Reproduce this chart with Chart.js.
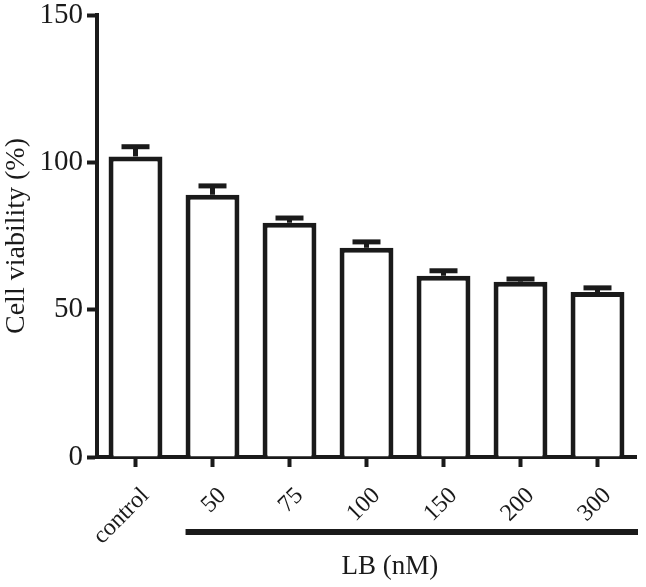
<!DOCTYPE html>
<html>
<head>
<meta charset="utf-8">
<script src="https://cdn.jsdelivr.net/npm/chart.js@4/dist/chart.umd.min.js"></script>
<style>
  html, body { margin: 0; padding: 0; background: #fff; }
  #wrap { width: 646px; height: 587px; }
</style>
</head>
<body>
<div id="wrap"><canvas id="viability-chart"></canvas></div>
<script>
// values
let groups = ['control', '50', '75', '100', '150', '200', '300'];
let viability = [102, 89, 79.5, 71, 61.5, 59.5, 56];
let errors = [3.3, 3, 1.6, 2, 1.7, 0.9, 1.4];
let yTicks = [0, 50, 100, 150];
let doseTitle = 'LB (nM)';

const ink = '#1a1a1a';
const serif = "'Liberation Serif', 'DejaVu Serif', serif";

// upper error bars with caps
const errorBars = {
    id: 'errorBars',
    afterDatasetsDraw(chart) {
        let ctx = chart.ctx;
        let y = chart.scales.y;
        let meta = chart.getDatasetMeta(0);
        ctx.save();
        ctx.strokeStyle = ink;
        ctx.lineWidth = 5;
        meta.data.forEach(function (bar, i) {
            let top = y.getPixelForValue(viability[i] + errors[i]);
            ctx.beginPath();
            ctx.moveTo(bar.x, bar.y);
            ctx.lineTo(bar.x, top);
            ctx.stroke();
            ctx.beginPath();
            ctx.moveTo(bar.x - 14, top);
            ctx.lineTo(bar.x + 14, top);
            ctx.stroke();
        });
        ctx.restore();
    }
};

// line under the LB doses + its label
const doseLine = {
    id: 'doseLine',
    afterDraw(chart) {
        let ctx = chart.ctx;
        let bar = chart.getDatasetMeta(0).data[1];
        let start = bar.x - bar.width / 2;
        ctx.save();
        ctx.fillStyle = ink;
        ctx.fillRect(start, 529, chart.width - start - 8, 6);
        ctx.font = '27px ' + serif;
        ctx.textBaseline = 'middle';
        ctx.textAlign = 'left';
        ctx.fillText(doseTitle, start + 156, 567);
        ctx.restore();
    }
};

new Chart(document.getElementById('viability-chart').getContext('2d'), {
    type: 'bar',
    data: {
        labels: groups,
        datasets: [{
            data: viability,
            backgroundColor: '#ffffff',
            borderColor: ink,
            borderWidth: 5,
            borderSkipped: 'bottom',
            barPercentage: 0.7,
            categoryPercentage: 1
        }]
    },
    options: {
        responsive: true,
        maintainAspectRatio: false,
        animation: false,
        layout: { padding: { top: 15, right: 10, left: 0, bottom: 0 } },
        plugins: { legend: { display: false }, tooltip: { enabled: false } },
        scales: {
            x: {
                offset: true,
                grid: { offset: false, drawOnChartArea: false, tickLength: 10, tickWidth: 4, tickColor: ink },
                border: { color: ink, width: 4 },
                ticks: {
                    color: ink,
                    font: { family: serif, size: 24 },
                    minRotation: 45,
                    maxRotation: 45,
                    labelOffset: 10,
                    padding: 15
                },
                afterFit(scale) { scale.height = 130; }
            },
            y: {
                min: 0,
                max: 150,
                afterBuildTicks(scale) { scale.ticks = yTicks.map(v => ({ value: v })); },
                grid: { drawOnChartArea: false, tickLength: 10, tickWidth: 4, tickColor: ink },
                border: { color: ink, width: 4 },
                ticks: {
                    color: ink,
                    font: { family: serif, size: 29 },
                    padding: 4
                },
                title: {
                    display: true,
                    text: 'Cell viability (%)',
                    color: ink,
                    font: { family: serif, size: 28 },
                    padding: { top: 0, bottom: 4 }
                },
                afterFit(scale) {
                    scale.width = 97;
                    scale.paddingTop = 0;
                    scale.paddingBottom = 0;
                }
            }
        }
    },
    plugins: [errorBars, doseLine]
});
</script>
</body>
</html>
